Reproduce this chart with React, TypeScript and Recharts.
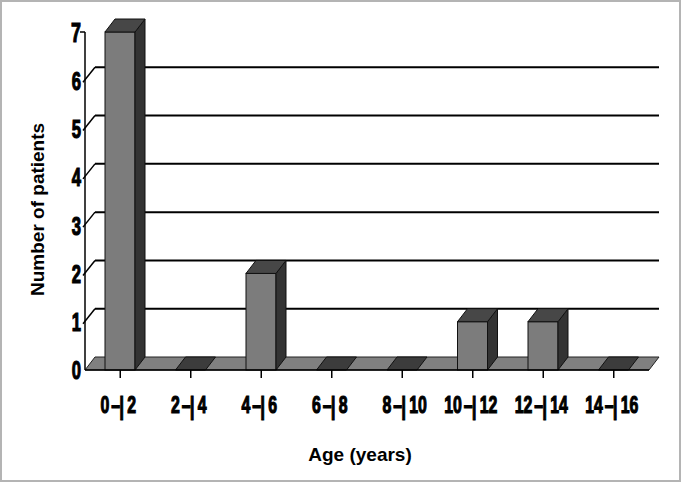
import { BarChart, Bar, XAxis, YAxis, CartesianGrid } from "recharts";

const ageFrom = [0, 2, 4, 6, 8, 10, 12, 14];
const ageTo = [2, 4, 6, 8, 10, 12, 14, 16];
const patients = [7, 0, 2, 0, 0, 1, 1, 0];
const yTicks = [0, 1, 2, 3, 4, 5, 6, 7];

const data = ageFrom.map((from, i) => ({
    age: `${from}-|${ageTo[i]}`,
    patients: patients[i],
}));

// fake 3d depth (excel style)
const DX = 10;
const DY = 13;
const W = 682;
const H = 483;
const MARGIN = { top: 32, right: 33, left: 45, bottom: 13 };
const XAXIS_H = 100;
const PLOT_TOP = MARGIN.top;
const PLOT_BOTTOM = H - MARGIN.bottom - XAXIS_H;

const tickFont = "'Liberation Sans', Arial, sans-serif";

function Bar3D(props: any) {
    const { x, y, width, height } = props;
    const top = `${x},${y} ${x + DX},${y - DY} ${x + width + DX},${y - DY} ${x + width},${y}`;
    if (!height || height < 0.5) {
        return <polygon points={top} fill="#3c3c3c" stroke="#111" strokeWidth={1} />;
    }
    const side = `${x + width},${y} ${x + width + DX},${y - DY} ${x + width + DX},${y + height - DY} ${x + width},${y + height}`;
    return (
        <g>
            <rect x={x} y={y} width={width} height={height} fill="#7c7c7c" stroke="#111" strokeWidth={1} />
            <polygon points={side} fill="#333" stroke="#111" strokeWidth={1} />
            <polygon points={top} fill="#474747" stroke="#111" strokeWidth={1} />
        </g>
    );
}

function GridLine(p: any) {
    const { x1, x2, y1 } = p;
    if (Math.abs(y1 - PLOT_TOP) < 1) return <g />;
    if (Math.abs(y1 - PLOT_BOTTOM) < 1) {
        // floor of the 3d box
        return (
            <polygon
                points={`${x1},${y1} ${x1 + DX},${y1 - DY} ${x2 + DX},${y1 - DY} ${x2},${y1}`}
                fill="#808080"
                stroke="#222"
                strokeWidth={1}
            />
        );
    }
    return <line x1={x1 + DX} x2={x2 + DX} y1={y1 - DY} y2={y1 - DY} stroke="#000" strokeWidth={2} />;
}

function YTick(props: any) {
    const { x, y, payload } = props;
    const v = payload.value;
    return (
        <g>
            {v === 7 && <line x1={x - 5} x2={x} y1={y} y2={y} stroke="#000" strokeWidth={1.5} />}
            {v > 0 && v < 7 && (
                <line x1={x - 2} y1={y + 2} x2={x + DX} y2={y - DY} stroke="#000" strokeWidth={1.5} />
            )}
            <g transform={`translate(${x - 4},${y}) scale(0.64,1)`}>
                <text
                    textAnchor="end"
                    dy="0.36em"
                    fontSize={v === 7 ? 28 : 26}
                    fontWeight="bold"
                    fontFamily={tickFont}
                    fill="#000"
                    stroke="#000"
                    strokeWidth={1.2}
                >
                    {v}
                </text>
            </g>
        </g>
    );
}

const S = 0.66; // horizontal squeeze of the tick font

function XTick(props: any) {
    const { x, y, payload } = props;
    const [lo, hi] = String(payload.value).split("-|");
    const base = y + 33; // digit baseline
    return (
        <g transform={`translate(${x},${base}) scale(${S},1)`}>
            <text fontSize={24} fontWeight="bold" fontFamily={tickFont} fill="#000" stroke="#000" strokeWidth={1.2}>
                <tspan x={-11 / S} textAnchor="end">{lo}</tspan>
                <tspan x={-9 / S} textAnchor="start">–</tspan>
                <tspan x={1.5 / S} dy={2} fontSize={26} textAnchor="middle">|</tspan>
                <tspan x={7 / S} dy={-2} textAnchor="start">{hi}</tspan>
            </text>
        </g>
    );
}

export default function App() {
    return (
        <div style={{ position: "absolute", left: 0, top: 0, width: W, height: H, background: "#fff" }}>
            <div
                style={{
                    position: "absolute",
                    left: 0,
                    top: 0,
                    width: W - 1,
                    height: H - 1,
                    boxSizing: "border-box",
                    border: "2px solid #b4b4b4",
                }}
            />
            <div style={{ position: "absolute", left: 0, top: 0 }}>
                <BarChart width={W} height={H} data={data} margin={MARGIN} barSize={30}>
                    <CartesianGrid vertical={false} horizontal={GridLine} />
                    <XAxis
                        dataKey="age"
                        height={XAXIS_H}
                        axisLine={{ stroke: "#000", strokeWidth: 1.5 }}
                        tickLine={{ stroke: "#000", strokeWidth: 1.5 }}
                        tickSize={8}
                        interval={0}
                        tick={<XTick />}
                        label={{
                            value: "Age (years)",
                            position: "insideBottom",
                            offset: 9,
                            dx: -7,
                            fontSize: 19,
                            fontWeight: "bold",
                            fontFamily: tickFont,
                            fill: "#000",
                        }}
                    />
                    <YAxis
                        type="number"
                        domain={[0, 7]}
                        ticks={yTicks}
                        width={40}
                        axisLine={{ stroke: "#000", strokeWidth: 1.5 }}
                        tickLine={false}
                        tickSize={0}
                        tickMargin={0}
                        tick={<YTick />}
                        label={{
                            value: "Number of patients",
                            angle: -90,
                            position: "insideLeft",
                            dx: -13,
                            dy: 95,
                            fontSize: 19,
                            fontWeight: "bold",
                            fontFamily: tickFont,
                            fill: "#000",
                        }}
                    />
                    <Bar dataKey="patients" shape={<Bar3D />} isAnimationActive={false} />
                </BarChart>
            </div>
        </div>
    );
}
